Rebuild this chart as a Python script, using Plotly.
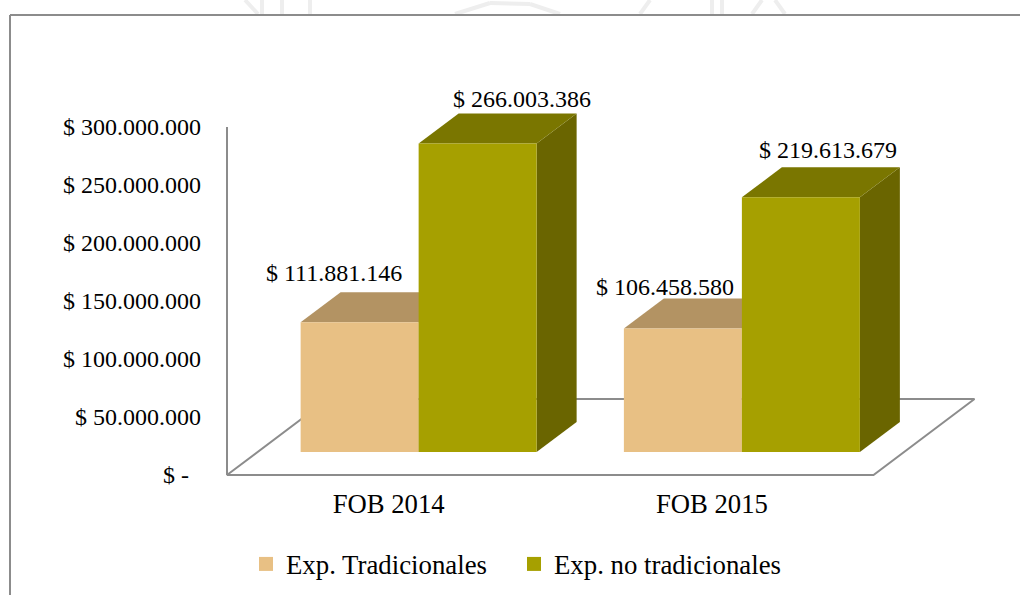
import plotly.graph_objects as go

categories = ["FOB 2014", "FOB 2015"]
tradicionales = [111881146, 106458580]
no_tradicionales = [266003386, 219613679]
y_ticks = [0, 50000000, 100000000, 150000000, 200000000, 250000000, 300000000]
y_tick_labels = ["$ -\u00a0\u00a0", "$ 50.000.000", "$ 100.000.000", "$ 150.000.000",
                 "$ 200.000.000", "$ 250.000.000", "$ 300.000.000"]
label_tradicionales = ["$ 111.881.146", "$ 106.458.580"]
label_no_tradicionales = ["$ 266.003.386", "$ 219.613.679"]

FONT = "Liberation Serif"
GREY = "#8c8c8c"
W, H = 1020, 595
# plot area in pixels: a little wider than the drawn axes so nothing is clipped
L, R, T, B = 224, 0, 15, 117
XU = 323.25           # px per category
YU = 300000000 / 348  # value per px
X_MIN = -0.5 - 3 / XU
X_MAX = X_MIN + (W - L - R) / XU
Y_MIN = -3 * YU
Y_MAX = Y_MIN + (H - T - B) * YU
# pseudo-3D geometry, in axis units
BAR_W = 118 / XU
BAR_OFF = 30 / XU
DX = 40 / XU
DY = 30 * YU
LIFT = 23 * YU
FLOOR_DX = 101 / XU
FLOOR_DY = 76 * YU
AX_L, AX_R = -0.5, 1.5

fig = go.Figure()


def poly(xs, ys, color, width=0):
    fig.add_trace(go.Scatter(x=xs + xs[:1], y=ys + ys[:1], mode="lines", fill="toself",
                             fillcolor=color, line=dict(color=color, width=width),
                             hoverinfo="skip", showlegend=False))


def box(x0, value, front, top, side):
    x1 = x0 + BAR_W
    y0, y1 = LIFT, LIFT + value
    poly([x1, x1 + DX, x1 + DX, x1], [y0, y0 + DY, y1 + DY, y1], side)
    poly([x0, x0 + DX, x1 + DX, x1], [y1, y1 + DY, y1 + DY, y1], top)
    poly([x0, x1, x1, x0], [y0, y0, y1, y1], front)


# floor and vertical axis
fig.add_trace(go.Scatter(
    x=[AX_L, AX_L, AX_L + FLOOR_DX, AX_R + FLOOR_DX, AX_R, AX_L],
    y=[y_ticks[-1], 0, FLOOR_DY, FLOOR_DY, 0, 0], mode="lines",
    line=dict(color=GREY, width=2), hoverinfo="skip", showlegend=False))

for i, cat in enumerate(categories):
    box(i + BAR_OFF - BAR_W, tradicionales[i], "#E8C084", "#B39363", "#A88B5C")
    box(i + BAR_OFF, no_tradicionales[i], "#A6A000", "#7A7600", "#6A6500")

annotations = []
shift_trad = [(-46, 19), (-38, 12)]
shift_no = [(24, 14), (7, 17)]
for i in range(len(categories)):
    annotations.append(dict(
        x=i + BAR_OFF - BAR_W / 2 + DX / 2, y=tradicionales[i] + LIFT + DY,
        text=label_tradicionales[i], showarrow=False, xshift=shift_trad[i][0],
        yshift=shift_trad[i][1], font=dict(family=FONT, size=24, color="black")))
    annotations.append(dict(
        x=i + BAR_OFF + BAR_W / 2 + DX / 2, y=no_tradicionales[i] + LIFT + DY,
        text=label_no_tradicionales[i], showarrow=False, xshift=shift_no[i][0],
        yshift=shift_no[i][1], font=dict(family=FONT, size=24, color="black")))

# legend entries
for name, color in (("Exp. Tradicionales", "#E8C084"), ("Exp. no tradicionales", "#A6A000")):
    fig.add_trace(go.Scatter(x=[None], y=[None], mode="markers", name=name,
                             marker=dict(symbol="square", size=14, color=color)))


def px(x):
    return (x - L) / (W - L - R)


def py(y):
    return (H - B - y) / (H - T - B)


# frame and faint watermark fragments
shapes = [
    dict(type="line", xref="paper", yref="paper", x0=px(10), x1=px(1020), y0=py(15), y1=py(15),
         line=dict(color=GREY, width=2)),
    dict(type="line", xref="paper", yref="paper", x0=px(10), x1=px(10), y0=py(15), y1=py(595),
         line=dict(color=GREY, width=2)),
]
for a, b, c, d in [(245, 0, 258, 14), (262, 0, 262, 14), (282, 0, 282, 14), (310, 0, 310, 14),
                   (455, 14, 490, 3), (490, 3, 530, 4), (530, 4, 560, 14), (640, 14, 650, 0),
                   (712, 0, 712, 14), (722, 0, 722, 14), (752, 14, 762, 0), (775, 0, 785, 14)]:
    shapes.append(dict(type="line", xref="paper", yref="paper", layer="below",
                       x0=px(a), x1=px(c), y0=py(b), y1=py(d),
                       line=dict(color="#eeeeee", width=4)))

fig.update_layout(
    width=W, height=H, autosize=False,
    margin=dict(l=L, r=R, t=T, b=B, pad=0),
    paper_bgcolor="white", plot_bgcolor="rgba(0,0,0,0)",
    showlegend=True,
    legend=dict(orientation="h", xref="container", yref="container",
                x=246 / W, xanchor="left", y=(H - 564) / H, yanchor="middle",
                bgcolor="rgba(0,0,0,0)", entrywidth=223, entrywidthmode="pixels", itemwidth=30,
                font=dict(family=FONT, size=26.8, color="black")),
    xaxis=dict(range=[X_MIN, X_MAX], tickvals=list(range(len(categories))), ticktext=categories,
               showgrid=False, zeroline=False, showline=False,
               ticks="", ticklabelstandoff=7, tickfont=dict(family=FONT, size=26.7, color="black")),
    yaxis=dict(range=[Y_MIN, Y_MAX], tickvals=y_ticks, ticktext=y_tick_labels,
               showgrid=False, zeroline=False, showline=False,
               ticks="", ticklabelstandoff=22, tickfont=dict(family=FONT, size=24, color="black")),
    annotations=annotations, shapes=shapes,
)
fig.write_html("out.html", config={"displayModeBar": False},
               post_script="document.body.style.margin='0';document.body.style.overflow='hidden';")
